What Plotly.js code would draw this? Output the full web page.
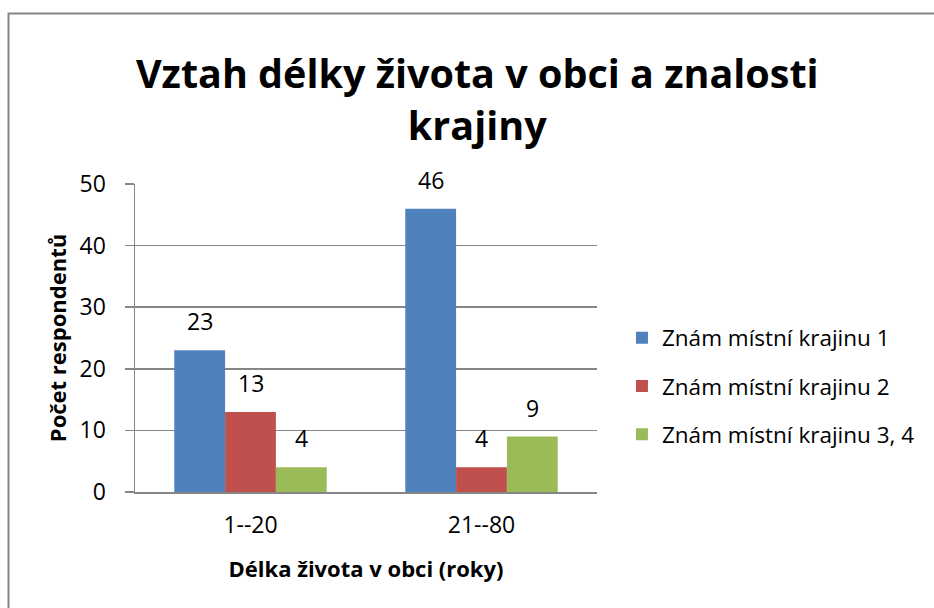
<!DOCTYPE html>
<html>
<head>
<meta charset="utf-8">
<script src="https://cdn.plot.ly/plotly-3.0.1.min.js"></script>
<style>
html,body{margin:0;padding:0;background:#fff;}
#chart{width:934px;height:608px;}
</style>
</head>
<body>
<div id="chart"></div>
<script>
const categories = ["1--20", "21--80"];
const seriesNames = ["Znám místní krajinu 1", "Znám místní krajinu 2", "Znám místní krajinu 3, 4"];
const series1 = [23, 46];
const series2 = [13, 4];
const series3 = [4, 9];
const seriesValues = [series1, series2, series3];
const colors = ["#4F81BD", "#C0504D", "#9BBB59"];
const yTicks = [0, 10, 20, 30, 40, 50];

const FONT = "Open Sans, Noto Sans, sans-serif";

const traces = seriesValues.map((vals, i) => ({
  type: "bar",
  name: seriesNames[i],
  x: categories,
  y: vals,
  marker: {color: colors[i]},
  legendgroup: "g" + i,
  hoverinfo: "none"
}));

const barPx = 51;
const annotations = [];
seriesValues.forEach((vals, i) => {
  vals.forEach((v, j) => {
    annotations.push({
      x: categories[j], y: v, xref: "x", yref: "y",
      text: String(v), showarrow: false,
      xshift: (i - 1) * barPx, yanchor: "bottom", yshift: 11,
      font: {family: FONT, size: 23, color: "#000"}
    });
  });
});

const layout = {
  width: 934, height: 608,
  paper_bgcolor: "#fff", plot_bgcolor: "#fff",
  margin: {l: 135, r: 337, t: 184, b: 116, autoexpand: false},
  title: {
    text: "<b>Vztah délky života v obci a znalosti<br>krajiny</b>",
    font: {family: FONT, size: 39.5, color: "#000"},
    x: 0.511, xanchor: "center", y: 0.855, yanchor: "middle"
  },
  barmode: "group",
  bargap: 0.34,
  bargroupgap: 0,
  xaxis: {
    type: "category",
    showline: true, linecolor: "#868686", linewidth: 1.5,
    ticks: "", ticklabelstandoff: 12,
    tickfont: {family: FONT, size: 23, color: "#000"},
    title: {text: "<b>Délka života v obci (roky)</b>", font: {family: FONT, size: 22, color: "#000"}, standoff: 22},
    showgrid: false, zeroline: false
  },
  yaxis: {
    range: [0, 50], tickvals: yTicks, ticktext: yTicks.map(String),
    showline: true, linecolor: "#868686", linewidth: 1.5,
    ticks: "outside", ticklen: 9, tickcolor: "#868686", tickwidth: 1.5,
    ticklabelstandoff: 14,
    showgrid: true, gridcolor: "#868686", gridwidth: 1.5,
    zeroline: false,
    tickfont: {family: FONT, size: 23, color: "#000"},
    title: {text: "<b>Počet respondentů</b>", font: {family: FONT, size: 22, color: "#000"}, standoff: 7}
  },
  showlegend: true,
  legend: {
    x: 1.054, xanchor: "left", y: 0.344, yanchor: "middle",
    xref: "paper",
    font: {family: FONT, size: 22.5, color: "#000"},
    tracegroupgap: 16, itemwidth: 30,
    bgcolor: "rgba(0,0,0,0)"
  },
  annotations: annotations,
  shapes: [{
    type: "rect", xref: "paper", yref: "paper",
    x0: (8.5 - 135) / 462, x1: 2, y0: -1, y1: (492 - 13.5) / 308,
    line: {color: "#868686", width: 2}, fillcolor: "rgba(0,0,0,0)", layer: "below"
  }]
};

Plotly.newPlot("chart", traces, layout, {displayModeBar: false, staticPlot: true});
</script>
</body>
</html>
